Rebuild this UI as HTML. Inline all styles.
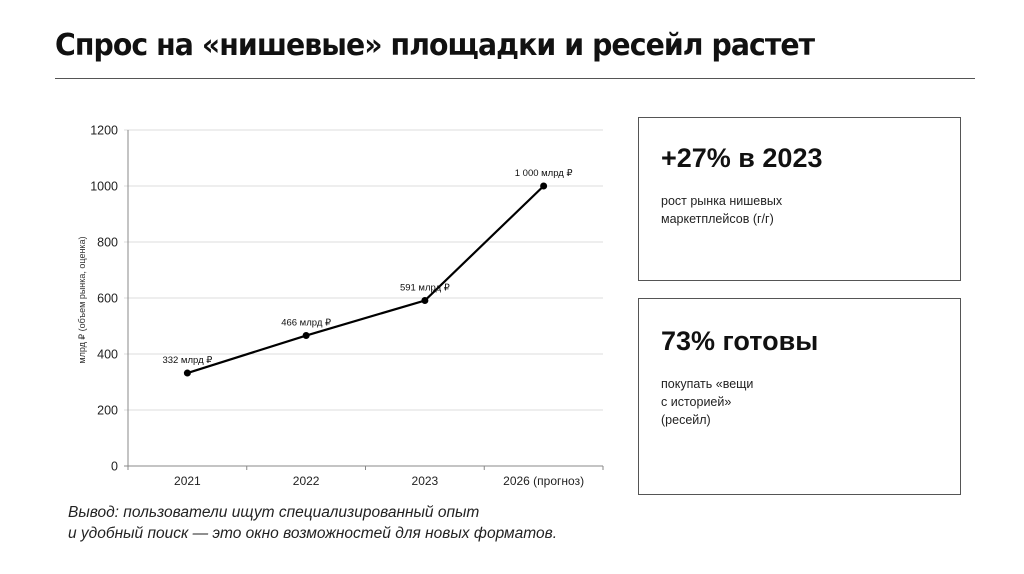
<!DOCTYPE html>
<html><head><meta charset="utf-8"><style>
body{margin:0;width:1024px;height:574px;background:#fff;position:relative;overflow:hidden;font-family:"Liberation Sans","Noto Sans CJK SC",sans-serif}
.t{position:absolute;left:55px;top:28px;font-size:30px;font-weight:bold;color:#111;font-family:"DejaVu Sans","Liberation Sans",sans-serif;letter-spacing:-1px;transform:scaleX(0.945);transform-origin:left}
.rule{position:absolute;left:55px;top:78px;width:920px;height:1px;background:#555}
.box{position:absolute;left:638px;width:323px;border:1.5px solid #555;box-sizing:border-box}
.big{position:absolute;left:22px;font-size:27px;font-weight:bold;color:#111;font-family:"Liberation Sans",sans-serif}
.small{position:absolute;left:22px;font-size:12.5px;line-height:18px;color:#222}
.concl{position:absolute;left:68px;top:502px;font-size:15.5px;line-height:21px;font-style:italic;color:#222}
</style></head><body>
<div class="t">Спрос на «нишевые» площадки и ресейл растет</div>
<div class="rule"></div>
<svg id="chart" width="1024" height="574" style="position:absolute;left:0;top:0"></svg>
<div class="box" style="top:117px;height:164px">
<div class="big" style="top:25px">+27% в 2023</div>
<div class="small" style="top:74px">рост рынка нишевых<br>маркетплейсов (г/г)</div></div>
<div class="box" style="top:298px;height:197px">
<div class="big" style="top:27px">73% готовы</div>
<div class="small" style="top:76px">покупать «вещи<br>с историей»<br>(ресейл)</div></div>
<div class="concl">Вывод: пользователи ищут специализированный опыт<br>и удобный поиск — это окно возможностей для новых форматов.</div>
<script>
const categories=["2021","2022","2023","2026 (прогноз)"];
const values=[332,466,591,1000];
const pointLabels=["332 млрд ₽","466 млрд ₽","591 млрд ₽","1 000 млрд ₽"];
const yTicks=[0,200,400,600,800,1000,1200];
const NS="http://www.w3.org/2000/svg";
const svg=document.getElementById('chart');
const L=128,R=603,T=130,B=466,ymax=1200;
const band=(R-L)/categories.length;
const x=i=>L+band*(i+0.5);
const y=v=>B-(v/ymax)*(B-T);
function mk(t,a,txt){const e=document.createElementNS(NS,t);for(const k in a)e.setAttribute(k,a[k]);if(txt!=null)e.textContent=txt;svg.appendChild(e);return e;}
yTicks.forEach(v=>{
 const g=mk('line',{x1:L-4,x2:R,y1:y(v),y2:y(v),stroke:v===0?'#888':'#ddd','stroke-width':1});
 
 
 const t=mk('text',{x:L-10,y:y(v)+4.5,'text-anchor':'end','font-size':12.5,fill:'#222'},String(v));
 
 
});
const ax=mk('line',{x1:L,x2:L,y1:T,y2:B,stroke:'#888'});


for(let i=0;i<=categories.length;i++){const tk=mk('line',{x1:L+band*i,x2:L+band*i,y1:B,y2:B+4,stroke:'#888'});
 
 }
categories.forEach((c,i)=>{const t=mk('text',{x:x(i),y:B+19,'text-anchor':'middle','font-size':12,fill:'#222'},c);
 
 });
const yt=mk('text',{x:0,y:0,transform:`translate(85,${(T+B)/2+2}) rotate(-90)`,'text-anchor':'middle','font-size':9,fill:'#333'},'млрд ₽ (объем рынка, оценка)');


const ln=mk('polyline',{points:values.map((v,i)=>x(i)+','+y(v)).join(' '),fill:'none',stroke:'#000','stroke-width':2.2});


values.forEach((v,i)=>{
 const c=mk('circle',{cx:x(i),cy:y(v),r:3.5,fill:'#000'});
 
 
 const t=mk('text',{x:x(i),y:y(v)-10,'text-anchor':'middle','font-size':9.5,fill:'#111'},pointLabels[i]);
 
 
});
</script>
</body></html>
